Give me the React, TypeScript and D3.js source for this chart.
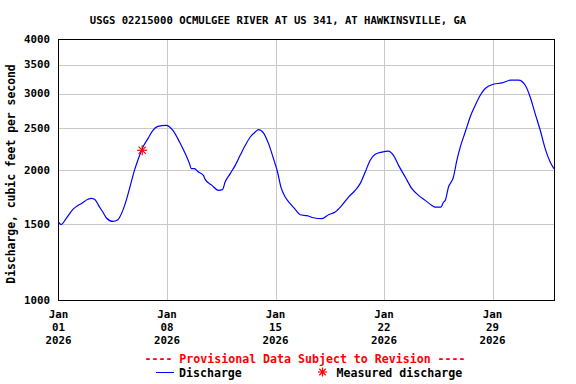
import React from "react";
import * as d3 from "d3";

const TITLE = "USGS 02215000 OCMULGEE RIVER AT US 341, AT HAWKINSVILLE, GA";
const Y_LABEL = "Discharge, cubic feet per second";
const PROVISIONAL = "---- Provisional Data Subject to Revision ----";

// fractional days since 2026-01-01 00:00
const dischargeDays = [
  0.0, 0.17, 0.5, 0.93, 1.25, 1.46, 1.9, 2.1, 2.32, 2.65, 2.86, 3.08, 3.51, 3.83, 4.15, 4.37,
  4.58, 4.9, 5.12, 5.45, 5.77, 6.09, 6.41, 6.95, 7.38, 7.81, 8.13, 8.45, 8.56, 8.77, 9.03,
  9.35, 9.46, 9.9, 10.32, 10.58, 10.75, 11.08, 11.4, 11.72, 12.05, 12.37, 12.69, 12.9,
  13.23, 13.55, 13.87, 14.13, 14.35, 14.63, 14.95, 15.27, 15.59, 16.03, 16.45, 16.99,
  17.42, 17.85, 18.28, 18.71, 19.14, 19.46, 19.79, 20.11, 20.43, 20.86, 21.29, 21.61,
  21.94, 22.37, 22.8, 23.23, 23.66, 24.09, 24.3, 24.67, 24.84, 24.95, 25.16, 25.48, 25.7,
  25.92, 26.24, 26.56, 26.89, 27.21, 27.53, 28.06, 28.61, 29.14, 29.68, 30.11, 30.43,
  30.75, 31.08, 31.4, 31.72, 31.96,
];
const dischargeCfs = [
  1516, 1497, 1547, 1623, 1657, 1672, 1712, 1720, 1712, 1642, 1600, 1552, 1522, 1536, 1614, 1702,
  1811, 1996, 2106, 2259, 2363, 2470, 2522, 2536, 2470, 2321, 2200, 2069, 2015, 2015, 1979,
  1944, 1903, 1843, 1795, 1802, 1876, 1962, 2050, 2162, 2280, 2383, 2447, 2479,
  2434, 2301, 2125, 1979, 1826, 1732, 1672, 1623, 1577, 1569, 1552, 1544,
  1577, 1600, 1657, 1732, 1795, 1860, 1979, 2106, 2174, 2200, 2212, 2162,
  2050, 1927, 1811, 1748, 1702, 1657, 1642, 1642, 1687, 1702, 1826, 1927, 2106,
  2259, 2447, 2651, 2821, 2975, 3083, 3154, 3176, 3222, 3222, 3137, 2948,
  2699, 2470, 2241, 2086, 2015,
];
const measuredDays = [5.4];
const measuredCfs = [2221];

const yTicks = [1000, 1500, 2000, 2500, 3000, 3500, 4000];
const xTickDays = [0, 7, 14, 21, 28];
const xTickLabels = [
  ["Jan", "01", "2026"],
  ["Jan", "08", "2026"],
  ["Jan", "15", "2026"],
  ["Jan", "22", "2026"],
  ["Jan", "29", "2026"],
];

const START = new Date(2026, 0, 1);
const END = new Date(2026, 1, 2);
const toDate = (d: number) => new Date(START.getTime() + d * 86400000);

const FONT = "'DejaVu Sans Mono', monospace";

function Star({ cx, cy, r, color }: { cx: number; cy: number; r: number; color: string }) {
  const d = r * 0.72;
  return (
    <g stroke={color} strokeWidth={1.2}>
      <line x1={cx - r} y1={cy} x2={cx + r} y2={cy} />
      <line x1={cx} y1={cy - r} x2={cx} y2={cy + r} />
      <line x1={cx - d} y1={cy - d} x2={cx + d} y2={cy + d} />
      <line x1={cx - d} y1={cy + d} x2={cx + d} y2={cy - d} />
    </g>
  );
}

export default function App() {
  const W = 576;
  const H = 384;
  const x = d3.scaleTime().domain([START, END]).range([58.5, 554.5]);
  const y = d3.scaleLog().domain([1000, 4000]).range([300.5, 39.5]);

  const pts = dischargeDays.map((d, i) => [toDate(d), dischargeCfs[i]] as [Date, number]);
  const line = d3
    .line<[Date, number]>()
    .x((p) => x(p[0]))
    .y((p) => y(p[1]))
    .curve(d3.curveMonotoneX);

  const [x0, x1] = x.range();
  const [yb, yt] = y.range();

  return (
    <svg
      width={W}
      height={H}
      style={{ position: "absolute", left: 0, top: 0, background: "#fff" }}
      fontFamily={FONT}
      fontWeight="bold"
    >
      <rect width={W} height={H} fill="#fff" />
      <text x={278} y={24} textAnchor="middle" fontSize={10.6} fill="#000">
        {TITLE}
      </text>

      {/* grid */}
      {yTicks
        .filter((t) => t !== 1000 && t !== 4000)
        .map((t) => (
          <line key={"gy" + t} x1={x0} x2={x1} y1={Math.round(y(t)) + 0.5} y2={Math.round(y(t)) + 0.5} stroke="#c8c8c8" strokeWidth={1} />
        ))}
      {xTickDays
        .filter((d) => d !== 0)
        .map((d) => (
          <line key={"gx" + d} x1={Math.round(x(toDate(d))) + 0.5} x2={Math.round(x(toDate(d))) + 0.5} y1={yt} y2={yb} stroke="#c8c8c8" strokeWidth={1} />
        ))}

      {/* frame */}
      <rect x={x0} y={yt} width={x1 - x0} height={yb - yt} fill="none" stroke="#000" strokeWidth={1} />

      {/* y tick labels */}
      {yTicks.map((t) => (
        <text key={"yl" + t} x={50} y={y(t)} dy="0.35em" textAnchor="end" fontSize={10.8} fill="#000">
          {t}
        </text>
      ))}

      {/* x tick labels */}
      {xTickDays.map((d, i) => (
        <g key={"xl" + d}>
          {xTickLabels[i].map((s, j) => (
            <text key={j} x={x(toDate(d))} y={318 + j * 13} textAnchor="middle" fontSize={10.8} fill="#000">
              {s}
            </text>
          ))}
        </g>
      ))}

      {/* y axis title */}
      <text transform={`translate(15,174) rotate(-90)`} textAnchor="middle" fontSize={11.4} fill="#000">
        {Y_LABEL}
      </text>

      {/* data line */}
      <path d={line(pts) || ""} fill="none" stroke="#0000ff" strokeWidth={1.2} />

      {/* measured */}
      {measuredDays.map((d, i) => (
        <Star key={"m" + i} cx={x(toDate(d))} cy={y(measuredCfs[i])} r={5} color="#ff0000" />
      ))}

      {/* legend */}
      <text x={305} y={363} textAnchor="middle" fontSize={11.6} fill="#ff0000">
        {PROVISIONAL}
      </text>
      <line x1={156} x2={174} y1={372.5} y2={372.5} stroke="#0000ff" strokeWidth={1} />
      <text x={179} y={377} fontSize={11.6} fill="#000">
        Discharge
      </text>
      <Star cx={322.5} cy={372} r={4.5} color="#ff0000" />
      <text x={336.5} y={377} fontSize={11.6} fill="#000">
        Measured discharge
      </text>
    </svg>
  );
}
